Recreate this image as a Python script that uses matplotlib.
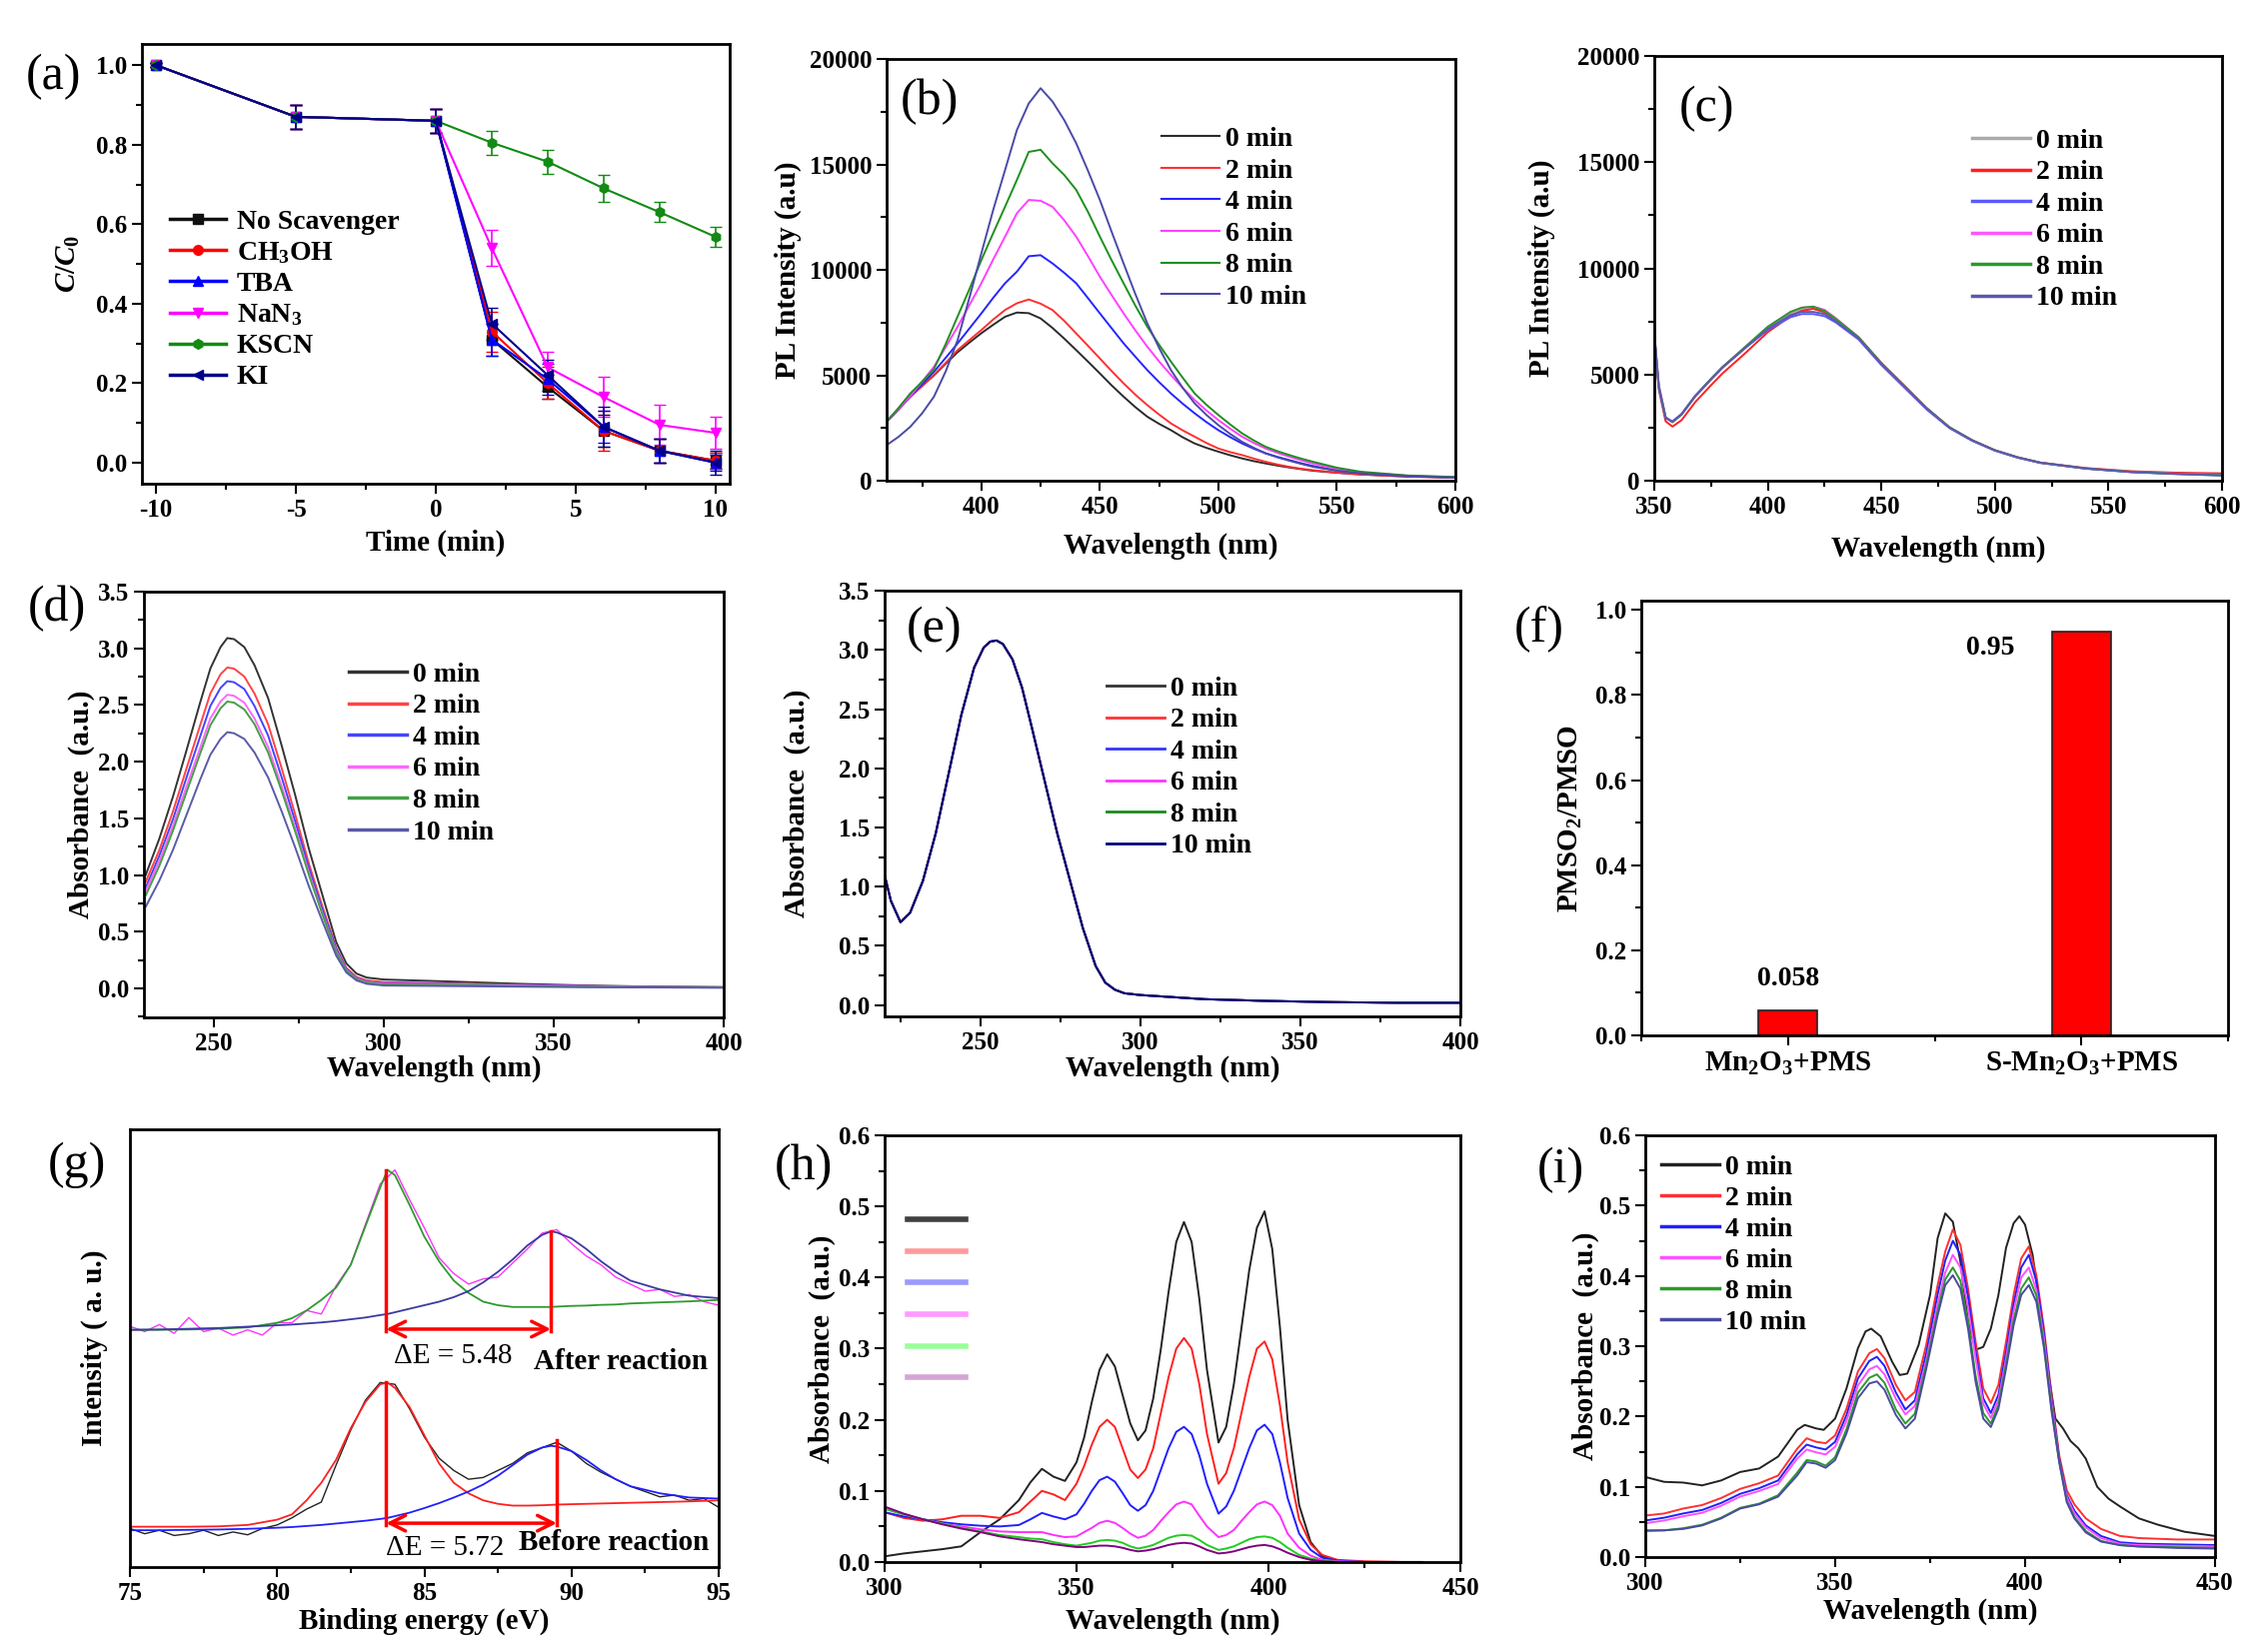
import numpy as np
import matplotlib
matplotlib.use("Agg")
import matplotlib.pyplot as plt
from matplotlib.lines import Line2D
from matplotlib.ticker import MultipleLocator

plt.rcParams['font.family'] = ['Liberation Serif', 'DejaVu Serif']
plt.rcParams['font.weight'] = 'bold'
plt.rcParams['axes.labelweight'] = 'bold'
plt.rcParams['mathtext.fontset'] = 'custom'
plt.rcParams['mathtext.rm'] = 'Liberation Serif:bold'
plt.rcParams['mathtext.it'] = 'Liberation Serif:italic:bold'
plt.rcParams['mathtext.bf'] = 'Liberation Serif:bold'
plt.rcParams['axes.unicode_minus'] = False

# ---------------- (a) scavenger tests ----------------
t_a = [-10, -5, 0, 2, 4, 6, 8, 10]
a_names = ['No Scavenger', r'CH$_3$OH', 'TBA', r'NaN$_3$', 'KSCN', 'KI']
a_vals = [
    [1.0, 0.87, 0.86, 0.31, 0.19, 0.08, 0.03, 0.005],
    [1.0, 0.87, 0.86, 0.33, 0.20, 0.08, 0.03, 0.005],
    [1.0, 0.87, 0.86, 0.31, 0.21, 0.09, 0.03, 0.0],
    [1.0, 0.87, 0.86, 0.54, 0.24, 0.165, 0.095, 0.075],
    [1.0, 0.87, 0.86, 0.805, 0.757, 0.69, 0.63, 0.568],
    [1.0, 0.87, 0.86, 0.35, 0.22, 0.09, 0.03, 0.0],
]
a_errs = [
    [0.005, 0.03, 0.03, 0.04, 0.03, 0.04, 0.03, 0.02],
    [0.005, 0.03, 0.03, 0.05, 0.04, 0.05, 0.03, 0.02],
    [0.005, 0.03, 0.03, 0.04, 0.04, 0.04, 0.03, 0.02],
    [0.005, 0.03, 0.03, 0.045, 0.04, 0.05, 0.05, 0.04],
    [0.005, 0.03, 0.03, 0.03, 0.03, 0.035, 0.025, 0.025],
    [0.005, 0.03, 0.03, 0.04, 0.04, 0.05, 0.03, 0.03],
]
a_colors = ['#111111', '#ff0000', '#0000ff', '#ff00ff', '#138a13', '#00008b']
a_markers = ['s', 'o', '^', 'v', 'h', '<']

# ---------------- (b) PL spectra ----------------
wl_b = [360, 365, 370, 375, 380, 385, 390, 395, 400, 405, 410, 415, 420, 425, 430, 435, 440, 445,
        450, 455, 460, 465, 470, 475, 480, 485, 490, 495, 500, 505, 510, 515, 520, 525, 530, 535,
        540, 550, 560, 580, 600]
pl_b = [
    [2800, 3380, 3990, 4500, 5000, 5560, 6100, 6560, 7000, 7400, 7780, 7980, 7950, 7700, 7250, 6740,
     6200, 5650, 5090, 4520, 3990, 3490, 3040, 2700, 2400, 2060, 1770, 1560, 1380, 1210, 1060, 930,
     820, 720, 630, 550, 475, 380, 300, 200, 150],
    [2800, 3390, 3990, 4500, 5015, 5600, 6200, 6680, 7150, 7650, 8100, 8420, 8600, 8400, 8100, 7580,
     6990, 6400, 5800, 5200, 4620, 4080, 3590, 3140, 2720, 2390, 2090, 1790, 1530, 1360, 1220, 1050,
     900, 770, 660, 570, 500, 390, 300, 200, 150],
    [2800, 3390, 3990, 4580, 5170, 5840, 6520, 7230, 7940, 8680, 9370, 9920, 10650, 10700, 10310,
     9860, 9370, 8660, 7940, 7230, 6520, 5880, 5250, 4680, 4140, 3650, 3200, 2780, 2400, 2070, 1770,
     1520, 1300, 1130, 980, 830, 700, 480, 360, 220, 160],
    [2800, 3400, 4000, 4700, 5410, 6350, 7310, 8340, 9370, 10500, 11580, 12690, 13320, 13280, 13000,
     12350, 11580, 10650, 9680, 8800, 7940, 7130, 6360, 5660, 5010, 4400, 3830, 3330, 2880, 2470,
     2090, 1790, 1530, 1320, 1140, 970, 820, 560, 400, 240, 170],
    [2800, 3450, 4140, 4700, 5300, 6500, 7800, 9100, 10470, 11750, 13000, 14270, 15600, 15700, 15060,
     14500, 13800, 12750, 11580, 10450, 9370, 8300, 7310, 6450, 5650, 4880, 4140, 3600, 3120, 2670,
     2250, 1910, 1610, 1400, 1220, 1050, 900, 620, 430, 250, 180],
    [1690, 2080, 2560, 3200, 3990, 5200, 6680, 8700, 10790, 12850, 14740, 16640, 17900, 18620, 17990,
     17100, 16010, 14700, 13320, 11800, 10310, 8850, 7470, 6300, 5250, 4400, 3670, 3120, 2640, 2220,
     1850, 1560, 1300, 1110, 950, 800, 660, 480, 360, 220, 150],
]
time_labels = ['0 min', '2 min', '4 min', '6 min', '8 min', '10 min']
b_colors = ['#2b2b2b', '#ff3030', '#2525ff', '#ff40ff', '#1f8f1f', '#4a4aa8']

# ---------------- (c) PL spectra, control ----------------
wl_c = [350, 352, 355, 358, 362, 368, 375, 380, 390, 400, 410, 415, 420, 425, 430, 440, 450,
        460, 470, 480, 490, 500, 510, 520, 540, 560, 580, 600]
pl_c = [
    [7000, 4500, 3000, 2750, 3100, 3950, 4750, 5300, 6250, 7200, 7850, 8050, 8100, 7900, 7550, 6700, 5500,
     4450, 3400, 2500, 1900, 1430, 1100, 850, 580, 420, 340, 280],
    [6800, 4300, 2800, 2550, 2850, 3700, 4500, 5050, 6000, 7000, 7750, 8000, 8100, 7950, 7600, 6750, 5550,
     4500, 3420, 2520, 1910, 1440, 1110, 860, 600, 450, 380, 350],
    [6900, 4400, 2950, 2800, 3150, 4000, 4800, 5350, 6250, 7100, 7700, 7850, 7850, 7750, 7450, 6650, 5450,
     4400, 3350, 2480, 1880, 1420, 1090, 840, 570, 410, 320, 250],
    [7000, 4500, 3000, 2780, 3120, 3980, 4780, 5330, 6300, 7250, 7950, 8150, 8200, 8050, 7650, 6750, 5520,
     4460, 3410, 2510, 1900, 1430, 1100, 850, 580, 420, 340, 290],
    [6950, 4450, 2980, 2760, 3120, 3990, 4800, 5350, 6300, 7250, 7950, 8150, 8200, 8000, 7620, 6760, 5540,
     4480, 3420, 2520, 1910, 1440, 1100, 850, 580, 420, 330, 270],
    [6900, 4400, 2950, 2780, 3130, 3980, 4780, 5330, 6250, 7150, 7800, 7950, 7950, 7850, 7500, 6700, 5500,
     4450, 3400, 2500, 1900, 1430, 1100, 850, 580, 410, 320, 250],
]
c_colors = ['#aaaaaa', '#ff2020', '#5a5aff', '#ff55ff', '#2a9a2a', '#5a5ab0']

# ---------------- (d) UV-vis, decreasing ----------------
wl_d = [230, 234, 238, 242, 246, 249, 252, 254, 256, 259, 262, 266, 270, 274, 278, 282, 286, 289,
        292, 295, 300, 320, 340, 360, 380, 400]
abs_d = [
    [1.0, 1.32, 1.69, 2.1, 2.52, 2.82, 3.01, 3.09, 3.08, 3.01, 2.85, 2.56, 2.14, 1.70, 1.23, 0.82,
     0.41, 0.22, 0.13, 0.095, 0.078, 0.06, 0.04, 0.025, 0.015, 0.01],
    [0.94, 1.22, 1.56, 1.94, 2.32, 2.6, 2.77, 2.83, 2.82, 2.75, 2.6, 2.33, 1.94, 1.53, 1.1, 0.72,
     0.36, 0.18, 0.1, 0.07, 0.055, 0.045, 0.03, 0.02, 0.012, 0.01],
    [0.89, 1.17, 1.49, 1.86, 2.22, 2.49, 2.65, 2.71, 2.70, 2.64, 2.49, 2.23, 1.86, 1.47, 1.06, 0.69,
     0.35, 0.17, 0.09, 0.06, 0.045, 0.04, 0.03, 0.02, 0.012, 0.01],
    [0.86, 1.12, 1.43, 1.78, 2.12, 2.38, 2.53, 2.59, 2.58, 2.52, 2.38, 2.13, 1.78, 1.41, 1.02, 0.66,
     0.33, 0.16, 0.085, 0.055, 0.04, 0.035, 0.025, 0.018, 0.01, 0.008],
    [0.82, 1.08, 1.39, 1.73, 2.07, 2.32, 2.47, 2.53, 2.52, 2.46, 2.33, 2.08, 1.74, 1.38, 1.0, 0.65,
     0.32, 0.155, 0.08, 0.05, 0.035, 0.03, 0.02, 0.015, 0.01, 0.008],
    [0.72, 0.95, 1.22, 1.53, 1.84, 2.06, 2.2, 2.26, 2.25, 2.2, 2.08, 1.86, 1.56, 1.24, 0.9, 0.59,
     0.29, 0.14, 0.07, 0.04, 0.025, 0.02, 0.015, 0.01, 0.008, 0.005],
]
d_colors = ['#333333', '#ff4444', '#4444ff', '#ff66ff', '#44a044', '#5a5aa8']

# ---------------- (e) UV-vis, unchanged ----------------
wl_e = [220, 222, 225, 228, 232, 236, 240, 244, 248, 251, 253, 255, 257, 260, 263, 266, 270, 274,
        278, 282, 286, 289, 292, 295, 300, 320, 340, 360, 380, 400]
abs_e = [1.1, 0.88, 0.7, 0.78, 1.05, 1.45, 1.95, 2.45, 2.85, 3.02, 3.07, 3.08, 3.05, 2.92, 2.68, 2.35,
         1.9, 1.45, 1.05, 0.65, 0.33, 0.19, 0.13, 0.1, 0.085, 0.05, 0.035, 0.025, 0.02, 0.02]
e_colors = ['#333333', '#ff3333', '#3333ff', '#ff33ff', '#1a8a1a', '#00007a']

# ---------------- (f) PMSO2 yield ----------------
f_cats = [r'Mn$_2$O$_3$+PMS', r'S-Mn$_2$O$_3$+PMS']
f_vals = [0.058, 0.95]

# ---------------- (g) Mn 3s XPS ----------------
be_fit = [75, 76, 77, 78, 79, 80, 80.5, 81, 81.5, 82, 82.5, 83, 83.5, 83.75, 84, 84.5, 85, 85.5,
          86, 86.5, 87, 87.5, 88, 88.5, 89, 89.3, 89.5, 90, 90.5, 91, 91.5, 92, 93, 94, 95]
after_fit1 = [6.75, 6.75, 6.76, 6.78, 6.82, 6.95, 7.08, 7.3, 7.6, 7.95, 8.6, 9.7, 10.8, 11.3, 11.15,
              10.3, 9.4, 8.7, 8.15, 7.8, 7.55, 7.45, 7.4, 7.4, 7.4, 7.4, 7.41, 7.43, 7.44, 7.46,
              7.47, 7.5, 7.53, 7.56, 7.6]
after_fit2 = [6.75, 6.76, 6.78, 6.8, 6.84, 6.88, 6.9, 6.93, 6.96, 7.0, 7.05, 7.1, 7.17, 7.2, 7.25,
              7.35, 7.45, 7.55, 7.68, 7.85, 8.1, 8.4, 8.75, 9.15, 9.45, 9.55, 9.52, 9.35, 9.05, 8.7,
              8.4, 8.15, 7.9, 7.72, 7.65]
before_fit1 = [1.15, 1.15, 1.15, 1.16, 1.2, 1.35, 1.5, 1.9, 2.4, 3.05, 3.95, 4.7, 5.2, 5.25, 5.1,
               4.55, 3.75, 2.95, 2.4, 2.1, 1.9, 1.8, 1.75, 1.75, 1.76, 1.77, 1.78, 1.79, 1.8, 1.81,
               1.82, 1.83, 1.85, 1.87, 1.9]
before_fit2 = [1.05, 1.05, 1.06, 1.07, 1.09, 1.12, 1.14, 1.17, 1.2, 1.24, 1.28, 1.32, 1.37, 1.4, 1.45,
               1.55, 1.68, 1.82, 1.98, 2.15, 2.35, 2.6, 2.9, 3.2, 3.4, 3.45, 3.43, 3.3, 3.05, 2.75,
               2.5, 2.3, 2.1, 1.98, 1.95]
be_raw = np.arange(75, 95.01, 0.5)
after_raw = [6.85, 6.7, 6.9, 6.65, 7.1, 6.7, 6.8, 6.6, 6.75, 6.6, 6.95, 6.95, 7.3, 7.2, 8.0, 8.6, 9.75,
             10.9, 11.3, 10.45, 9.65, 8.8, 8.35, 8.05, 8.2, 8.25, 8.65, 9.05, 9.5, 9.6, 9.2, 8.85,
             8.6, 8.25, 8.05, 7.85, 7.9, 7.7, 7.75, 7.55, 7.45]
before_raw = [1.1, 0.95, 1.05, 0.9, 0.95, 1.05, 0.9, 1.0, 0.92, 1.1, 1.2, 1.4, 1.65, 1.85, 2.9, 3.9,
              4.75, 5.25, 5.2, 4.5, 3.7, 3.1, 2.75, 2.5, 2.55, 2.75, 2.95, 3.25, 3.4, 3.55, 3.3,
              2.95, 2.7, 2.5, 2.3, 2.15, 2.0, 2.05, 1.9, 1.95, 1.7]
after_peaks = [83.7, 89.3]
after_tops = [11.3, 9.55]
before_peaks = [83.7, 89.5]
before_tops = [5.25, 3.6]

# ---------------- (h) DPA absorbance ----------------
wl_h = [300, 305, 310, 315, 320, 325, 330, 335, 338, 341, 344, 347, 350, 352, 354, 356, 358, 360,
        362, 364, 366, 368, 370, 372, 374, 376, 378, 380, 382, 384, 387, 389, 391, 393, 395, 397,
        399, 401, 403, 405, 408, 411, 414, 418, 425, 435, 440]
abs_h = [
    [0.008, 0.012, 0.015, 0.018, 0.022, 0.042, 0.06, 0.087, 0.112, 0.131, 0.12, 0.114,
     0.14, 0.175, 0.225, 0.27, 0.292, 0.275, 0.235, 0.195, 0.171, 0.185,
     0.23, 0.3, 0.38, 0.45, 0.478, 0.45, 0.37, 0.27, 0.168, 0.19,
     0.25, 0.33, 0.41, 0.47, 0.493, 0.44, 0.33, 0.2, 0.08, 0.028,
     0.008, 0.002, 0.0, 0.0, 0.0],
    [0.07, 0.062, 0.058, 0.06, 0.065, 0.065, 0.062, 0.07, 0.085, 0.1, 0.095, 0.087,
     0.11, 0.135, 0.165, 0.19, 0.2, 0.19, 0.16, 0.13, 0.118, 0.13,
     0.16, 0.21, 0.26, 0.3, 0.315, 0.3, 0.25, 0.18, 0.11, 0.125,
     0.16, 0.21, 0.26, 0.3, 0.31, 0.285, 0.22, 0.14, 0.06, 0.025,
     0.01, 0.003, 0.001, 0.0, 0.0],
    [0.07, 0.064, 0.06, 0.056, 0.053, 0.051, 0.05, 0.052, 0.06, 0.069, 0.064, 0.06,
     0.067, 0.082, 0.1, 0.115, 0.12, 0.113, 0.097, 0.08, 0.072, 0.08,
     0.1, 0.13, 0.16, 0.183, 0.19, 0.18, 0.15, 0.11, 0.068, 0.078,
     0.1, 0.13, 0.16, 0.185, 0.193, 0.18, 0.14, 0.09, 0.04, 0.017,
     0.006, 0.002, 0.0, 0.0, 0.0],
    [0.075, 0.067, 0.06, 0.054, 0.05, 0.046, 0.043, 0.042, 0.042, 0.042, 0.038, 0.035,
     0.036, 0.042, 0.048, 0.055, 0.058, 0.055, 0.048, 0.04, 0.034, 0.037,
     0.045, 0.058, 0.07, 0.081, 0.085, 0.081, 0.065, 0.05, 0.035, 0.038,
     0.045, 0.058, 0.07, 0.081, 0.085, 0.08, 0.065, 0.04, 0.02, 0.009,
     0.003, 0.001, 0.0, 0.0, 0.0],
    [0.075, 0.067, 0.06, 0.054, 0.048, 0.043, 0.038, 0.035, 0.033, 0.032, 0.028, 0.025,
     0.023, 0.025, 0.027, 0.03, 0.031, 0.03, 0.027, 0.022, 0.019, 0.021,
     0.024, 0.029, 0.034, 0.037, 0.038, 0.037, 0.031, 0.024, 0.017, 0.019,
     0.022, 0.027, 0.032, 0.035, 0.036, 0.034, 0.028, 0.02, 0.01, 0.005,
     0.002, 0.0, 0.0, 0.0, 0.0],
    [0.078, 0.068, 0.06, 0.053, 0.047, 0.042, 0.036, 0.032, 0.03, 0.028, 0.025, 0.023,
     0.021, 0.021, 0.022, 0.023, 0.023, 0.022, 0.02, 0.017, 0.015, 0.016,
     0.018, 0.021, 0.024, 0.026, 0.027, 0.026, 0.022, 0.017, 0.012, 0.013,
     0.015, 0.018, 0.021, 0.023, 0.024, 0.022, 0.018, 0.013, 0.007, 0.003,
     0.001, 0.0, 0.0, 0.0, 0.0],
]
h_colors = ['#222222', '#ff2020', '#2020ff', '#ff30ff', '#20cc20', '#800080']
h_leg_colors = ['#404040', '#ff9a9a', '#9a9aff', '#ff9aff', '#9aff9a', '#d4a4d4']

# ---------------- (i) DPA absorbance, control ----------------
wl_i0 = [300, 305, 310, 315, 320, 325, 330, 335, 340, 342, 345, 347, 350, 353, 356, 358, 359.5, 362,
         365, 367, 369, 372, 375, 377, 379, 381, 383, 385, 387, 389, 391, 393, 395, 397, 398.5, 400,
         402, 404, 406, 408, 410, 412, 414, 416, 419, 422, 425, 430, 435, 442, 450]
abs_i0 = [0.114, 0.107, 0.106, 0.102, 0.109, 0.121, 0.126, 0.143, 0.181, 0.188, 0.183, 0.181, 0.197,
          0.240, 0.297, 0.321, 0.325, 0.314, 0.278, 0.259, 0.261, 0.302, 0.373, 0.454, 0.489, 0.477,
          0.42, 0.335, 0.295, 0.299, 0.325, 0.373, 0.44, 0.475, 0.485, 0.473, 0.43, 0.354, 0.268,
          0.197, 0.183, 0.165, 0.155, 0.14, 0.1, 0.083, 0.072, 0.055, 0.046, 0.036, 0.03]
wl_i = [300, 305, 310, 315, 320, 325, 330, 335, 340, 342.5, 345, 347.5, 350, 353, 356, 359, 361, 363,
        366, 368.5, 371, 374, 377, 379, 381, 383, 385, 387, 389, 391, 393, 395, 397, 399, 401, 403,
        405, 407, 409, 411, 413, 416, 420, 425, 430, 440, 450]
abs_i = [
    [0.059, 0.062, 0.069, 0.074, 0.084, 0.097, 0.105, 0.116, 0.154, 0.169, 0.164, 0.162, 0.173, 0.211,
     0.264, 0.290, 0.296, 0.283, 0.245, 0.223, 0.235, 0.302, 0.387, 0.435, 0.466, 0.444, 0.382, 0.306,
     0.240, 0.219, 0.245, 0.306, 0.373, 0.425, 0.442, 0.401, 0.325, 0.230, 0.145, 0.095, 0.075, 0.055,
     0.040, 0.030, 0.027, 0.025, 0.025],
    [0.052, 0.056, 0.062, 0.067, 0.077, 0.09, 0.098, 0.109, 0.146, 0.16, 0.156, 0.153, 0.164, 0.202,
     0.254, 0.279, 0.285, 0.272, 0.234, 0.21, 0.223, 0.29, 0.374, 0.422, 0.45, 0.43, 0.37, 0.293,
     0.226, 0.205, 0.231, 0.292, 0.36, 0.412, 0.43, 0.392, 0.318, 0.224, 0.14, 0.088, 0.066, 0.045,
     0.03, 0.021, 0.019, 0.018, 0.017],
    [0.048, 0.052, 0.058, 0.063, 0.073, 0.086, 0.094, 0.104, 0.14, 0.153, 0.149, 0.146, 0.157, 0.194,
     0.244, 0.267, 0.272, 0.26, 0.225, 0.203, 0.215, 0.28, 0.36, 0.405, 0.43, 0.412, 0.355, 0.283,
     0.218, 0.198, 0.223, 0.282, 0.35, 0.398, 0.412, 0.38, 0.31, 0.218, 0.137, 0.085, 0.062, 0.042,
     0.027, 0.019, 0.017, 0.016, 0.015],
    [0.037, 0.038, 0.041, 0.046, 0.056, 0.07, 0.076, 0.088, 0.12, 0.138, 0.136, 0.13, 0.142, 0.182,
     0.234, 0.255, 0.26, 0.248, 0.21, 0.19, 0.204, 0.274, 0.35, 0.395, 0.412, 0.393, 0.335, 0.258,
     0.205, 0.19, 0.216, 0.274, 0.337, 0.382, 0.398, 0.372, 0.303, 0.212, 0.137, 0.08, 0.057, 0.037,
     0.023, 0.017, 0.015, 0.014, 0.013],
    [0.038, 0.038, 0.04, 0.045, 0.055, 0.069, 0.075, 0.086, 0.116, 0.135, 0.133, 0.127, 0.138, 0.176,
     0.226, 0.247, 0.25, 0.238, 0.202, 0.183, 0.197, 0.268, 0.344, 0.387, 0.401, 0.382, 0.325, 0.249,
     0.197, 0.185, 0.211, 0.268, 0.33, 0.373, 0.387, 0.363, 0.297, 0.207, 0.135, 0.078, 0.055, 0.035,
     0.022, 0.017, 0.015, 0.013, 0.012],
]
i_colors = ['#222222', '#ff3030', '#2020ff', '#ff50ff', '#2a9a2a', '#4a4aa0']

TICK = 18
LAB = 21
LEG = 20


def style(ax, xmaj, xmin, ymaj, ymin):
    ax.xaxis.set_major_locator(MultipleLocator(xmaj))
    ax.xaxis.set_minor_locator(MultipleLocator(xmin))
    if ymaj:
        ax.yaxis.set_major_locator(MultipleLocator(ymaj))
        ax.yaxis.set_minor_locator(MultipleLocator(ymin))
    ax.tick_params(which='both', direction='out', top=False, right=False,
                   labelsize=TICK, width=1.5)
    ax.tick_params(which='major', length=7)
    ax.tick_params(which='minor', length=4)
    for lab in ax.get_xticklabels() + ax.get_yticklabels():
        lab.set_fontweight('bold')
    for s in ax.spines.values():
        s.set_linewidth(2)


def time_legend(ax, x, y, colors, lw=1.5, spacing=0.22):
    handles = [Line2D([], [], color=c, lw=lw) for c in colors]
    ax.legend(handles, time_labels, loc='upper left', bbox_to_anchor=(x, y), frameon=False,
              fontsize=LEG, handlelength=2.1, handletextpad=0.2, labelspacing=spacing,
              borderpad=0, borderaxespad=0)


fig = plt.figure(figsize=(22.69, 16.52), dpi=100)

# (a)
ax = fig.add_axes([0.0626, 0.7070, 0.2591, 0.2663])
for vals, errs, c, m in zip(a_vals, a_errs, a_colors, a_markers):
    ax.errorbar(t_a, vals, yerr=errs, color=c, marker=m, ms=7, lw=1.5, capsize=4, elinewidth=1.2)
ax.set_xlim(-10.5, 10.5)
ax.set_ylim(-0.053, 1.053)
style(ax, 5, 2.5, 0.2, 0.1)
ax.set_xlabel('Time (min)', fontsize=LAB, labelpad=6)
ax.set_ylabel(r'$\mathit{C/C_0}$', fontsize=LAB, labelpad=10)
handles = [Line2D([], [], color=c, marker=m, ms=7, lw=2.5) for c, m in zip(a_colors, a_markers)]
ax.legend(handles, a_names, loc='upper left', bbox_to_anchor=(0.048, 0.625), frameon=False,
          fontsize=LEG, handlelength=2.0, handletextpad=0.4, labelspacing=0.2,
          borderpad=0, borderaxespad=0)

# (b)
ax = fig.add_axes([0.3909, 0.7088, 0.2508, 0.2554])
for vals, c in zip(pl_b, b_colors):
    ax.plot(wl_b, vals, color=c, lw=1.4)
ax.set_xlim(360, 600)
ax.set_ylim(0, 20000)
style(ax, 50, 25, 5000, 2500)
ax.set_xlabel('Wavelength (nm)', fontsize=LAB, labelpad=10)
ax.set_ylabel('PL Intensity (a.u)', fontsize=LAB, labelpad=6)
time_legend(ax, 0.483, 0.84, b_colors)

# (c)
ax = fig.add_axes([0.7294, 0.7088, 0.2503, 0.2573])
for vals, c in zip(pl_c, c_colors):
    ax.plot(wl_c, vals, color=c, lw=1.4)
ax.set_xlim(350, 600)
ax.set_ylim(0, 20000)
style(ax, 50, 25, 5000, 2500)
ax.set_xlabel('Wavelength (nm)', fontsize=LAB, labelpad=12)
ax.set_ylabel('PL Intensity (a.u)', fontsize=LAB, labelpad=16)
time_legend(ax, 0.56, 0.83, c_colors, lw=2.5)

# (d)
ax = fig.add_axes([0.0635, 0.3835, 0.2556, 0.2582])
for vals, c in zip(abs_d, d_colors):
    ax.plot(wl_d, vals, color=c, lw=1.4)
ax.set_xlim(229.5, 400)
ax.set_ylim(-0.26, 3.5)
style(ax, 50, 25, 0.5, 0.25)
ax.set_xlabel('Wavelength (nm)', fontsize=LAB, labelpad=0)
ax.set_ylabel('Absorbance  (a.u.)', fontsize=LAB, labelpad=2)
time_legend(ax, 0.353, 0.835, d_colors, lw=2.5)

# (e)
ax = fig.add_axes([0.3900, 0.3844, 0.2539, 0.2578])
for c in e_colors:
    ax.plot(wl_e, abs_e, color=c, lw=1.4)
ax.set_xlim(220, 400)
ax.set_ylim(-0.095, 3.5)
style(ax, 50, 25, 0.5, 0.25)
ax.set_xlabel('Wavelength (nm)', fontsize=LAB, labelpad=1)
ax.set_ylabel('Absorbance  (a.u.)', fontsize=LAB, labelpad=20)
time_legend(ax, 0.385, 0.80, e_colors, lw=2)

# (f)
ax = fig.add_axes([0.7237, 0.3729, 0.2587, 0.2633])
xf = np.arange(len(f_cats))
ax.bar(xf, f_vals, width=0.2, color='#ff0000', edgecolor='#222222', lw=1.2)
ax.set_xlim(-0.5, 1.5)
ax.set_ylim(0, 1.022)
style(ax, 1, 0.5, 0.2, 0.1)
ax.set_xticks(xf)
ax.set_xticklabels(f_cats, fontsize=LAB)
ax.set_ylabel(r'PMSO$_2$/PMSO', fontsize=LAB, labelpad=8)
ax.text(xf[0], f_vals[0] + 0.045, '0.058', ha='center', va='bottom', fontsize=LEG)
ax.text(xf[1] - 0.31, f_vals[1] - 0.04, '0.95', ha='center', va='center', fontsize=LEG)

# (g)
ax = fig.add_axes([0.0573, 0.0508, 0.2596, 0.2651])
ax.plot(be_raw, after_raw, color='#ff33ff', lw=1.0)
ax.plot(be_fit, after_fit1, color='#2e9a2e', lw=1.3)
ax.plot(be_fit, after_fit2, color='#3a3aa0', lw=1.3)
ax.plot(be_raw, before_raw, color='#222222', lw=1.0)
ax.plot(be_fit, before_fit1, color='#ff2020', lw=1.3)
ax.plot(be_fit, before_fit2, color='#2020ff', lw=1.3)
for xs, tops, base in [(after_peaks, after_tops, 6.72), (before_peaks, before_tops, 1.2)]:
    for xp, tp in zip(xs, tops):
        ax.plot([xp, xp], [base, tp], color='#ff0000', lw=2.5)
    ax.annotate('', xy=(xs[1], base + 0.05), xytext=(xs[0], base + 0.05),
                arrowprops=dict(arrowstyle='<->', color='#ff0000', lw=2.5, mutation_scale=28,
                                shrinkA=0, shrinkB=0))
ax.text(83.95, 6.0, r'ΔE = 5.48', fontsize=21, fontweight='normal', va='center')
ax.text(88.7, 5.85, 'After reaction', fontsize=21, va='center')
ax.text(83.7, 0.55, r'ΔE = 5.72', fontsize=21, fontweight='normal', va='center')
ax.text(88.2, 0.7, 'Before reaction', fontsize=21, va='center')
ax.set_xlim(75, 95)
ax.set_ylim(0, 12.45)
style(ax, 5, 2.5, None, None)
ax.set_yticks([])
ax.set_xlabel('Binding energy (eV)', fontsize=LAB, labelpad=2)
ax.set_ylabel('Intensity ( a. u.)', fontsize=LAB, labelpad=16)

# (h)
ax = fig.add_axes([0.3900, 0.0539, 0.2539, 0.2585])
for vals, c in zip(abs_h, h_colors):
    ax.plot(wl_h, vals, color=c, lw=1.4)
ax.set_xlim(300, 450)
ax.set_ylim(0, 0.6)
style(ax, 50, 25, 0.1, 0.05)
ax.set_xlabel('Wavelength (nm)', fontsize=LAB, labelpad=6)
ax.set_ylabel('Absorbance  (a.u.)', fontsize=LAB, labelpad=2)
handles = [Line2D([], [], color=c, lw=4) for c in h_leg_colors]
ax.legend(handles, [''] * 6, loc='upper left', bbox_to_anchor=(0.04, 0.825), frameon=False,
          fontsize=LEG, handlelength=2.1, labelspacing=0.22, borderpad=0, borderaxespad=0)

# (i)
ax = fig.add_axes([0.7254, 0.0569, 0.2512, 0.2554])
ax.plot(wl_i0, abs_i0, color=i_colors[0], lw=1.4)
for vals, c in zip(abs_i, i_colors[1:]):
    ax.plot(wl_i, vals, color=c, lw=1.4)
ax.set_xlim(300, 450)
ax.set_ylim(0, 0.6)
style(ax, 50, 25, 0.1, 0.05)
ax.set_xlabel('Wavelength (nm)', fontsize=LAB, labelpad=2)
ax.set_ylabel('Absorbance  (a.u.)', fontsize=LAB, labelpad=0)
time_legend(ax, 0.028, 0.955, i_colors, lw=2.5, spacing=0.2)

# panel letters
letters = ['(a)', '(b)', '(c)', '(d)', '(e)', '(f)', '(g)', '(h)', '(i)']
letter_pos = [(53, 77), (930, 102), (1707, 109), (57, 609), (935, 630), (1540, 630),
              (77, 1166), (804, 1168), (1561, 1171)]
for lab, (px, py) in zip(letters, letter_pos):
    fig.text(px / 2269, 1 - py / 1652, lab, fontsize=36, fontweight='normal',
             ha='center', va='center')

fig.savefig('out.png', dpi=100, facecolor='white')
